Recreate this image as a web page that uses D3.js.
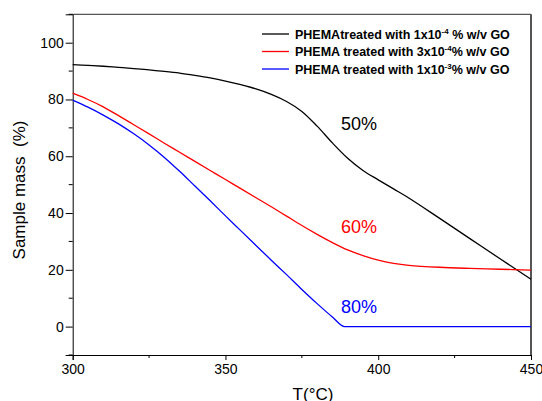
<!DOCTYPE html>
<html>
<head>
<meta charset="utf-8">
<script src="https://cdn.jsdelivr.net/npm/d3@7"></script>
<style>
    body { margin: 0; background: #fff; }
    svg { font-family: Arial, "Liberation Sans", sans-serif; }
    .y-title { white-space: pre; }
</style>
</head>
<body>
<div id="chart"></div>
<script>
// data
var temps = [300, 305, 310, 315, 320, 325, 330, 335, 340, 345, 350, 355, 360, 365, 370,
    375, 380, 385, 390, 395, 400, 405, 410, 420, 430, 440, 450];
var massBlack = [92.3, 92.0, 91.7, 91.3, 90.9, 90.4, 89.9, 89.3, 88.5, 87.6, 86.5, 85.2, 83.7, 81.8, 79.3,
    75.8, 70.6, 64.7, 59.3, 55.0, 51.7, 48.5, 45.3, 38.2, 31.0, 23.8, 16.7];
var massRed = [82.2, 80.0, 77.4, 74.3, 71.1, 67.9, 64.6, 61.4, 58.2, 55.0, 51.8, 48.6, 45.4, 42.2, 38.9,
    35.6, 32.5, 29.6, 27.0, 25.0, 23.4, 22.3, 21.6, 20.9, 20.5, 20.2, 19.9];
var tempsBlue = [300, 305, 310, 315, 320, 325, 330, 335, 340, 345, 350, 355, 360, 365, 370,
    375, 380, 385, 389, 400, 450];
var massBlue = [79.8, 77.3, 74.5, 71.4, 67.9, 64.0, 59.6, 54.7, 49.5, 44.3, 39.0, 33.8, 28.6, 23.4, 18.3,
    13.1, 8.1, 3.4, 0, 0, 0];

var xTicks = [300, 350, 400, 450];
var xMinor = [325, 375, 425];
var yTicks = [0, 20, 40, 60, 80, 100];
var yMinor = [-10, 10, 30, 50, 70, 90, 110];

var legendPre = ["PHEMAtreated with 1x10", "PHEMA treated with 3x10", "PHEMA treated with 1x10"];
var legendSup = ["-4", "-4", "-3"];
var legendPost = [" % w/v GO", "% w/v GO", "% w/v GO"];
var colors = ["#000000", "#ff0000", "#0000ff"];
var notes = ["50%", "60%", "80%"];

var width = 542;
var height = 401;

var svg = d3.select("#chart")
    .append("svg")
    .attr("width", width)
    .attr("height", height);

var x = d3.scaleLinear().domain([300, 450]).range([72.7, 531]);
var y = d3.scaleLinear().domain([-10, 110]).range([355, 14.3]);

// frame top/right (grey)
svg.append("line")
    .attr("x1", x(300)).attr("x2", x(450))
    .attr("y1", y(110)).attr("y2", y(110))
    .attr("stroke", "#555").attr("stroke-width", 1.3);
svg.append("line")
    .attr("x1", x(450)).attr("x2", x(450))
    .attr("y1", y(110)).attr("y2", y(-10))
    .attr("stroke", "#555").attr("stroke-width", 2);

// axes
var xAxis = d3.axisBottom(x).tickValues(xTicks).tickSize(5).tickPadding(4);
var yAxis = d3.axisLeft(y).tickValues(yTicks).tickSize(7).tickPadding(2);

var gx = svg.append("g")
    .attr("transform", "translate(0," + y(-10) + ")")
    .call(xAxis);
gx.selectAll("line.minor")
    .data(xMinor)
    .enter()
    .append("line")
    .attr("class", "minor")
    .attr("x1", d => x(d)).attr("x2", d => x(d))
    .attr("y1", 0).attr("y2", 3)
    .attr("stroke", "#000");

var gy = svg.append("g")
    .attr("transform", "translate(" + x(300) + ",0)")
    .call(yAxis);
gy.selectAll("line.minor")
    .data(yMinor)
    .enter()
    .append("line")
    .attr("class", "minor")
    .attr("x1", 0).attr("x2", -4)
    .attr("y1", d => y(d)).attr("y2", d => y(d))
    .attr("stroke", "#000");

svg.selectAll(".tick text")
    .style("font-size", "14px")
    .style("fill", "#000");

// titles
svg.append("text")
    .attr("x", 313)
    .attr("y", 400)
    .attr("text-anchor", "middle")
    .style("font-size", "17px")
    .text("T(\u00B0C)");

svg.append("text")
    .attr("class", "y-title")
    .attr("transform", "translate(25,190) rotate(-90)")
    .attr("text-anchor", "middle")
    .style("font-size", "17px")
    .text("Sample mass  (%)");

// lines: smooth curves, blue keeps monotone so it stays flat at 0
var smooth = d3.line()
    .x(d => x(d[0]))
    .y(d => y(d[1]))
    .curve(d3.curveCatmullRom.alpha(0.5));
var flat = d3.line()
    .x(d => x(d[0]))
    .y(d => y(d[1]))
    .curve(d3.curveMonotoneX);

var series = [
    d3.zip(temps, massBlack),
    d3.zip(temps, massRed),
    d3.zip(tempsBlue, massBlue)
];

svg.append("g")
    .selectAll("path")
    .data(series)
    .join("path")
    .attr("fill", "none")
    .attr("stroke", (d, i) => colors[i])
    .attr("stroke-width", 1.3)
    .attr("d", (d, i) => i < 2 ? smooth(d) : flat(d));

// percentage notes
var notePos = [[341, 130], [341, 233], [341, 313]];
svg.append("g")
    .selectAll("text")
    .data(notes)
    .join("text")
    .attr("x", (d, i) => notePos[i][0])
    .attr("y", (d, i) => notePos[i][1])
    .style("font-size", "18px")
    .style("fill", (d, i) => colors[i])
    .text(d => d);

// legend
var glegend = svg.selectAll(".legend")
    .data(legendPre)
    .join("g")
    .attr("class", "legend")
    .attr("transform", (d, i) => "translate(262," + (34 + i * 17.5) + ")");

glegend.append("line")
    .attr("x1", 0).attr("x2", 27)
    .attr("stroke", (d, i) => colors[i])
    .attr("stroke-width", 1.3);

var ltext = glegend.append("text")
    .attr("x", 33)
    .attr("y", 4.5)
    .style("font-size", "12.5px")
    .style("font-weight", "bold")
    .style("white-space", "pre");
ltext.append("tspan").text(d => d);
ltext.append("tspan")
    .attr("dy", -5)
    .style("font-size", "8px")
    .text((d, i) => legendSup[i]);
ltext.append("tspan")
    .attr("dy", 5)
    .text((d, i) => legendPost[i]);
</script>
</body>
</html>
